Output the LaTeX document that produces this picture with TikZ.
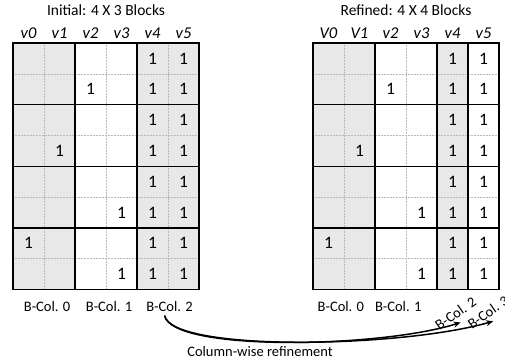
\documentclass[tikz,border=0pt]{standalone}
\usepackage{fontspec}
\setmainfont{Carlito}
\usetikzlibrary{arrows.meta}
\definecolor{cellgray}{RGB}{232,232,232}
\tikzset{
  blockline/.style={line width=1.4pt},
  fineline/.style={gray!55, densely dotted, line width=0.5pt},
  entry/.style={font=\fontsize{17.5}{20}\selectfont},
  ttl/.style={font=\fontsize{15.5}{18}\selectfont},
  hdr/.style={font=\fontsize{16.5}{19}\selectfont\itshape},
  lbl/.style={font=\fontsize{14.5}{17}\selectfont},
  refine/.style={line width=1.5pt, -{Stealth[length=7pt,width=6pt]}},
}
\begin{document}
\begin{tikzpicture}[x=1pt,y=-1pt]
  \useasboundingbox (0,0) rectangle (505,360);
  % initial blocking
  \node[ttl] (titleinit) at (106,10) {Initial: 4 X 3 Blocks};
  \begin{scope}[shift={(13,43)},x=31pt,y=-30.8pt]
    \fill[cellgray] (0,0) rectangle (2,8);
    \fill[cellgray] (4,0) rectangle (6,8);
    \foreach \i in {1,...,5} \draw[fineline] (\i,0) -- (\i,8);
    \foreach \j in {1,...,7} \draw[fineline] (0,\j) -- (6,\j);
    \draw[blockline] (0,0) rectangle (6,8);
    \foreach \i in {2,4} \draw[blockline] (\i,0) -- (\i,8);
    \foreach \j in {2,4,6} \draw[blockline] (0,\j) -- (6,\j);
    \foreach \c/\r in {4/0,5/0,2/1,4/1,5/1,4/2,5/2,1/3,4/3,5/3,4/4,5/4,
                       3/5,4/5,5/5,0/6,4/6,5/6,3/7,4/7,5/7}
      \node[entry] (l-\c-\r) at (\c+0.5,\r+0.5) {1};
    \foreach \c in {0,...,5} \node[hdr] (lh\c) at (\c+0.5,-0.33) {v\c};
    \node[lbl] (lbc0) at (1.1,8.57) {B-Col. 0};
    \node[lbl] (lbc1) at (3.1,8.57) {B-Col. 1};
    \node[lbl] (lbc2) at (5.05,8.57) {B-Col. 2};
  \end{scope}
  % refined blocking
  \node[ttl] (titleref) at (406,10) {Refined: 4 X 4 Blocks};
  \begin{scope}[shift={(313,43)},x=31pt,y=-30.8pt]
    \fill[cellgray] (0,0) rectangle (2,8);
    \fill[cellgray] (4,0) rectangle (5,8);
    \foreach \i in {1,...,5} \draw[fineline] (\i,0) -- (\i,8);
    \foreach \j in {1,...,7} \draw[fineline] (0,\j) -- (6,\j);
    \draw[blockline] (0,0) rectangle (6,8);
    \foreach \i in {2,4,5} \draw[blockline] (\i,0) -- (\i,8);
    \foreach \j in {2,4,6} \draw[blockline] (0,\j) -- (6,\j);
    \foreach \c/\r in {4/0,5/0,2/1,4/1,5/1,4/2,5/2,1/3,4/3,5/3,4/4,5/4,
                       3/5,4/5,5/5,0/6,4/6,5/6,3/7,4/7,5/7}
      \node[entry] (r-\c-\r) at (\c+0.5,\r+0.5) {1};
    \node[hdr] (rh0) at (0.5,-0.33) {V0};
    \node[hdr] (rh1) at (1.5,-0.33) {V1};
    \foreach \c in {2,...,5} \node[hdr] (rh\c) at (\c+0.5,-0.33) {v\c};
    \node[lbl] (rbc0) at (0.9,8.57) {B-Col. 0};
    \node[lbl] (rbc1) at (2.75,8.57) {B-Col. 1};
    \node[lbl,rotate=35] (rbc2) at (4.6,8.78) {B-Col. 2};
    \node[lbl,rotate=35] (rbc3) at (5.65,8.74) {B-Col. 3};
  \end{scope}
  % refinement arrows
  \draw[refine] ([xshift=-5pt]lbc2.south) .. controls (172,352) and (380,348) .. ([yshift=-2pt]rbc2.south);
  \draw[refine] ([xshift=-5pt]lbc2.south) .. controls (172,352) and (400,348) .. ([yshift=-2pt]rbc3.south);
  \node[lbl] (reftext) at (260,352) {Column-wise refinement};
\end{tikzpicture}
\end{document}
